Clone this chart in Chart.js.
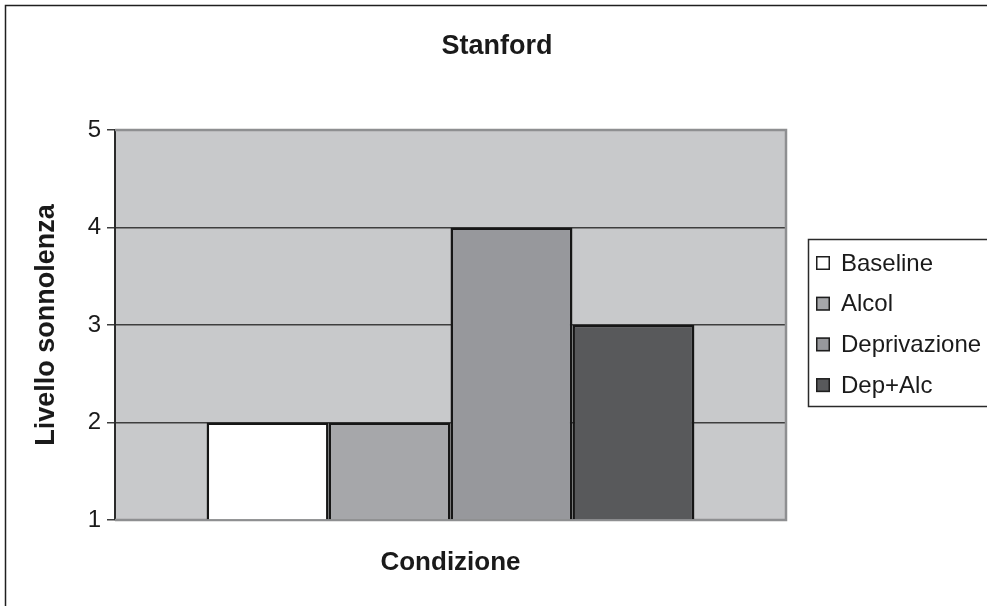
<!DOCTYPE html>
<html>
<head>
<meta charset="utf-8">
<script src="https://cdn.jsdelivr.net/npm/chart.js@4/dist/chart.umd.min.js"></script>
<style>
  html, body { margin: 0; padding: 0; background: #ffffff; }
  #wrap { width: 987px; height: 606px; }
</style>
</head>
<body>
<div id="wrap"><canvas id="c" width="987" height="606"></canvas></div>
<script>
// Chart content
const chartTitle = 'Stanford';
const xAxisTitle = 'Condizione';
const yAxisTitle = 'Livello sonnolenza';
const categories = [''];
const seriesNames = ['Baseline', 'Alcol', 'Deprivazione', 'Dep+Alc'];
const baselineValues = [2];
const alcolValues = [2];
const deprivazioneValues = [4];
const depAlcValues = [3];
const yTicks = [1, 2, 3, 4, 5];
const seriesColors = ['#ffffff', '#a6a7aa', '#97989c', '#58595b'];

const FONT = '"Liberation Sans", Arial, sans-serif';

const seriesValues = [baselineValues, alcolValues, deprivazioneValues, depAlcValues];

// Background, plot fill, plot frame, titles and the boxed legend
const decor = {
  id: 'decor',
  beforeDraw(chart) {
    const { ctx, chartArea: a } = chart;
    ctx.save();
    ctx.fillStyle = '#ffffff';
    ctx.fillRect(0, 0, chart.width, chart.height);
    ctx.fillStyle = '#c8c9cb';
    ctx.fillRect(a.left, a.top, a.right - a.left, a.bottom - a.top);
    ctx.restore();
  },
  beforeDatasetsDraw(chart) {
    const { ctx, chartArea: a } = chart;
    ctx.save();
    ctx.strokeStyle = '#8e8f91';
    ctx.lineWidth = 2.5;
    ctx.beginPath();
    ctx.moveTo(a.left, a.top);
    ctx.lineTo(a.right, a.top);
    ctx.lineTo(a.right, a.bottom);
    ctx.lineTo(a.left, a.bottom);
    ctx.stroke();
    ctx.restore();
  },
  afterDraw(chart) {
    const { ctx, chartArea: a } = chart;
    ctx.save();
    // outer chart frame
    ctx.strokeStyle = '#1f1f1f';
    ctx.lineWidth = 1.5;
    ctx.strokeRect(5.5, 5.5, 1000, 700);

    ctx.fillStyle = '#1a1a1a';
    ctx.textAlign = 'center';
    ctx.textBaseline = 'middle';
    ctx.font = 'bold 27px ' + FONT;
    ctx.fillText(chartTitle, 497, 47);

    ctx.font = 'bold 26px ' + FONT;
    ctx.fillText(xAxisTitle, (a.left + a.right) / 2, 563);

    ctx.save();
    ctx.font = 'bold 27px ' + FONT;
    ctx.translate(47, (a.top + a.bottom) / 2);
    ctx.rotate(-Math.PI / 2);
    ctx.fillText(yAxisTitle, 0, 0);
    ctx.restore();

    // legend box
    ctx.strokeStyle = '#2a2a2a';
    ctx.lineWidth = 1.5;
    ctx.strokeRect(808.5, 239.5, 400, 167);
    ctx.font = '24px ' + FONT;
    ctx.textAlign = 'left';
    chart.data.datasets.forEach((ds, i) => {
      const y = 263 + i * 40.7;
      ctx.fillStyle = ds.backgroundColor;
      ctx.fillRect(816, y - 7, 14, 14);
      ctx.strokeStyle = '#1e1e1e';
      ctx.lineWidth = 1.5;
      ctx.strokeRect(816.75, y - 6.25, 12.5, 12.5);
      ctx.fillStyle = '#1a1a1a';
      ctx.fillText(ds.label, 841, y + 1);
    });
    ctx.restore();
  }
};

new Chart(document.getElementById('c'), {
  type: 'bar',
  data: {
    labels: categories,
    datasets: seriesNames.map((name, i) => ({
      label: name,
      data: seriesValues[i],
      base: yTicks[0],
      backgroundColor: seriesColors[i],
      borderColor: '#161616',
      borderWidth: 2.5,
      categoryPercentage: 0.727,
      barPercentage: 1.0
    }))
  },
  options: {
    responsive: false,
    animation: false,
    devicePixelRatio: 1,
    layout: { padding: { left: 0, top: 130, right: 201, bottom: 86 } },
    plugins: {
      legend: { display: false },
      title: { display: false },
      tooltip: { enabled: false }
    },
    scales: {
      x: { display: false },
      y: {
        min: yTicks[0],
        max: yTicks[yTicks.length - 1],
        afterFit(scale) { scale.width = 115; },
        afterBuildTicks(scale) { scale.ticks = yTicks.map(v => ({ value: v })); },
        ticks: {
          color: '#1a1a1a',
          font: { family: FONT, size: 24 },
          padding: 6
        },
        grid: {
          color: ctx => (ctx.tick && (ctx.tick.value === yTicks[0] || ctx.tick.value === yTicks[yTicks.length - 1])) ? 'rgba(0,0,0,0)' : '#3e3e3e',
          tickColor: '#3e3e3e',
          tickLength: 8,
          lineWidth: 1.5
        },
        border: { color: '#2b2b2b', width: 2 }
      }
    }
  },
  plugins: [decor]
});
</script>
</body>
</html>
